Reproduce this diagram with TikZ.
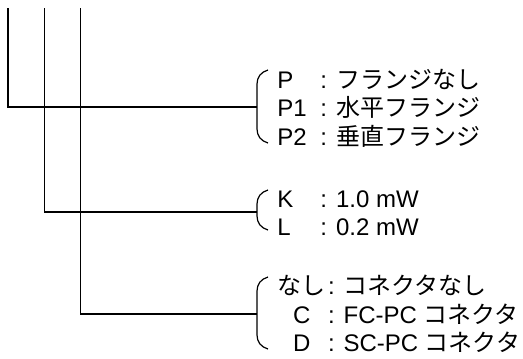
\documentclass[tikz,border=0pt]{standalone}
\usepackage{fontspec}
\setmainfont{Liberation Sans}
\newfontfamily\jp{Noto Sans CJK JP}
\usepackage{tikz}
\usetikzlibrary{positioning}

% label column and bracket
\newcommand{\lab}[1]{\makebox[1.8em][l]{#1}}
\newcommand{\labc}[1]{\makebox[2.2em][c]{#1}}
\newcommand{\bracket}[2]{%
  \draw[line] (268,#1) .. controls (261,#1+2) and (257,#1+7) .. (257,#1+14)
    -- (257,#2-14) .. controls (257,#2-7) and (261,#2-2) .. (268,#2);}

\begin{document}
\begin{tikzpicture}[
      x=0.75pt, y=-0.75pt,
      line/.style={line width=0.9pt},
      items/.style={anchor=west, inner sep=0pt, align=left,
        font=\fontsize{18}{21.4}\selectfont}
    ]
      \useasboundingbox (0,0) rectangle (523,358);

      % stems
      \coordinate (flange) at (8,8);
      \coordinate (power) at (44.5,8);
      \coordinate (conn) at (80.5,8);
      \coordinate (bflange) at (257,107);
      \coordinate (bpower) at (257,212);
      \coordinate (bconn) at (257,314);

      \draw[line] (flange) |- (bflange);
      \draw[line] (power) |- (bpower);
      \draw[line] (conn) |- (bconn);

      \bracket{70}{143}
      \bracket{190}{230}
      \bracket{277}{349}

      \node[items] (tflange) at (277,108) {%
        \lab{P}: {\jp フランジなし}\\
        \lab{P1}: {\jp 水平フランジ}\\
        \lab{P2}: {\jp 垂直フランジ}};
      \node[items] (tpower) at (277,213) {%
        \lab{K}: 1.0 mW\\
        \lab{L}: 0.2 mW};
      \node[items] (tconn) at (275,314) {%
        \labc{\jp なし}: {\jp コネクタなし}\\
        \labc{C}: FC-PC {\jp コネクタ}\\
        \labc{D}: SC-PC {\jp コネクタ}};

    \end{tikzpicture}
\end{document}
